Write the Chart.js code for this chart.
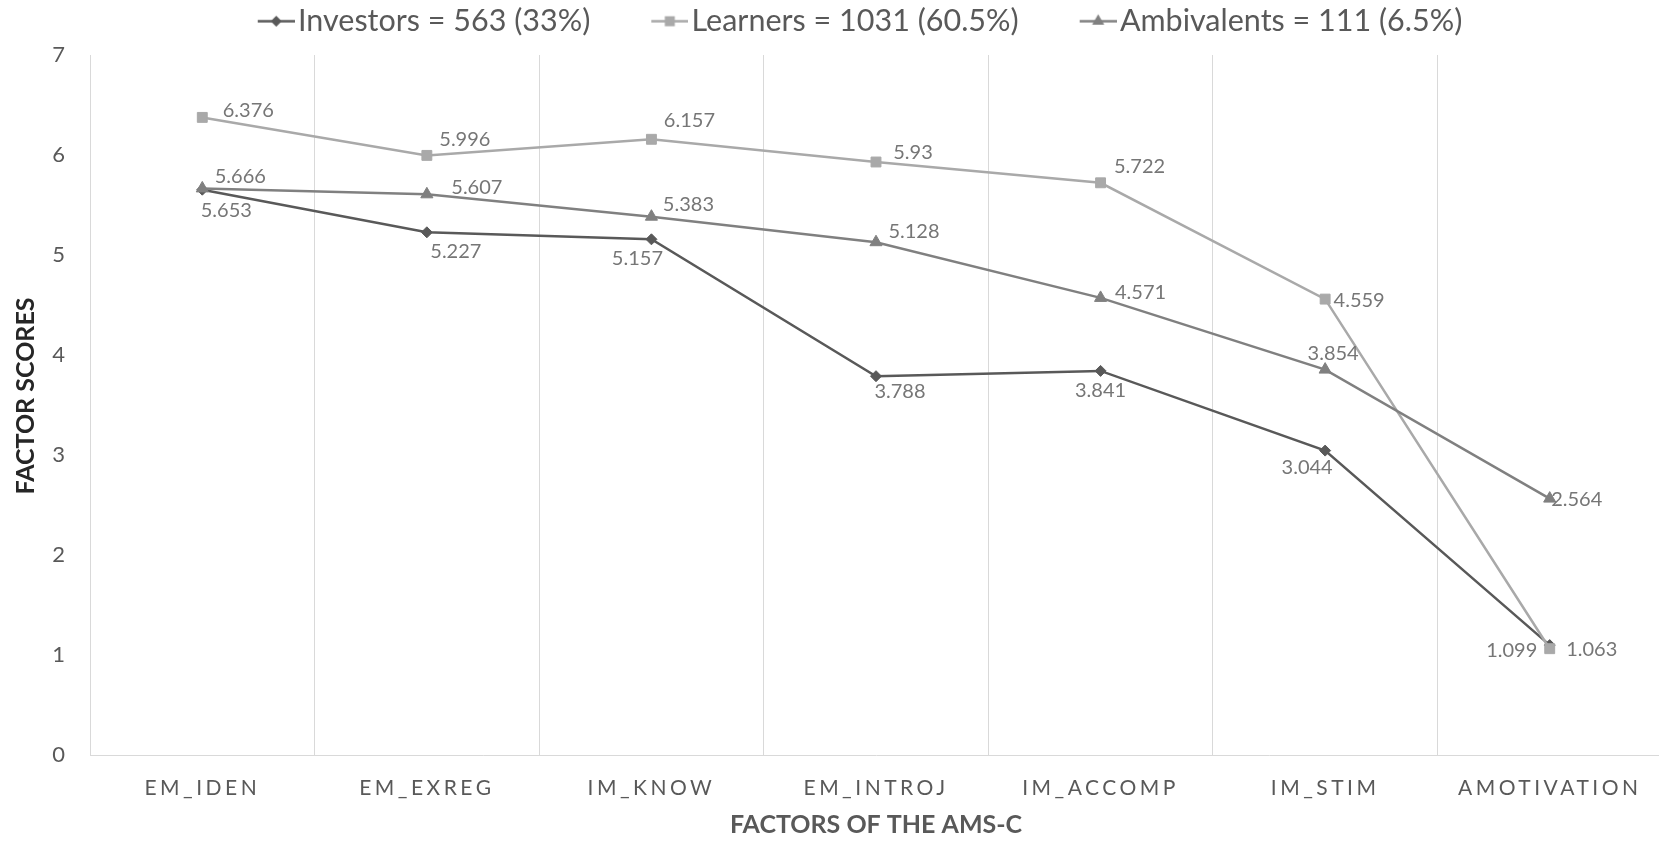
<!DOCTYPE html>
<html>
<head>
<meta charset="utf-8">
<script src="https://cdn.jsdelivr.net/npm/chart.js@4/dist/chart.umd.min.js"></script>
<style>
html, body { margin: 0; padding: 0; background: #ffffff; overflow: hidden; }
#wrap { width: 1670px; height: 841px; position: relative; }
</style>
</head>
<body>
<div id="wrap"><canvas id="c" width="1670" height="841"></canvas></div>
<script>
// ---- data ----
const categories = ['EM_IDEN', 'EM_EXREG', 'IM_KNOW', 'EM_INTROJ', 'IM_ACCOMP', 'IM_STIM', 'AMOTIVATION'];
const seriesNames = ['Investors = 563 (33%)', 'Learners = 1031 (60.5%)', 'Ambivalents = 111 (6.5%)'];
const investors = [5.653, 5.227, 5.157, 3.788, 3.841, 3.044, 1.099];
const learners = [6.376, 5.996, 6.157, 5.93, 5.722, 4.559, 1.063];
const ambivalents = [5.666, 5.607, 5.383, 5.128, 4.571, 3.854, 2.564];
const yTicks = [0, 1, 2, 3, 4, 5, 6, 7];
const xTitle = 'FACTORS OF THE AMS-C';
const yTitle = 'FACTOR SCORES';

// ---- styling (label placement relative to each point, in px) ----
const investorLabelOffsets = [[24, 21], [29, 19], [-14, 19], [24, 15], [0, 20], [-18, 17], [-38, 5]];
const learnerLabelOffsets = [[46, -7], [38, -16], [38, -19], [37, -9], [39, -16], [34, 1], [42, 1]];
const ambivalentLabelOffsets = [[38, -12], [50, -7], [37, -12], [38, -11], [40, -5], [8, -16], [27, 1]];

const colInvestors = '#595959';
const colLearners = '#a9a9a9';
const colAmbivalents = '#808080';
const FONT = 'Lato, "Open Sans", sans-serif';
const LEGEND_SIZE = 30.5;

function legendIcon(color, shape) {
  const W = 104, H = 31;
  const c = document.createElement('canvas');
  c.width = W; c.height = H;
  const g = c.getContext('2d');
  const cy = H / 2;
  g.strokeStyle = color;
  g.lineWidth = 2.5;
  g.beginPath(); g.moveTo(W - 37, cy); g.lineTo(W, cy); g.stroke();
  const cx = W - 18.5;
  g.fillStyle = color;
  g.beginPath();
  if (shape === 'diamond') {
    const r = 5.5;
    g.moveTo(cx, cy - r); g.lineTo(cx + r, cy); g.lineTo(cx, cy + r); g.lineTo(cx - r, cy);
  } else if (shape === 'square') {
    g.rect(cx - 5, cy - 5, 10, 10);
  } else {
    const r = 7;
    g.moveTo(cx, cy - r);
    g.lineTo(cx + r * Math.sin(2 * Math.PI / 3), cy - r * Math.cos(2 * Math.PI / 3));
    g.lineTo(cx + r * Math.sin(4 * Math.PI / 3), cy - r * Math.cos(4 * Math.PI / 3));
  }
  g.closePath();
  g.fill();
  return c;
}

const icons = [legendIcon(colInvestors, 'diamond'), legendIcon(colLearners, 'square'), legendIcon(colAmbivalents, 'triangle')];
const labelOffsets = [investorLabelOffsets, learnerLabelOffsets, ambivalentLabelOffsets];

const pointLabelPlugin = {
  id: 'pointLabels',
  afterDatasetsDraw(chart) {
    const ctx = chart.ctx;
    ctx.save();
    ctx.font = '20px ' + FONT;
    ctx.fillStyle = '#767676';
    ctx.textAlign = 'center';
    ctx.textBaseline = 'middle';
    chart.data.datasets.forEach((ds, di) => {
      const meta = chart.getDatasetMeta(di);
      meta.data.forEach((pt, i) => {
        const off = labelOffsets[di][i];
        ctx.fillText(String(ds.data[i]), pt.x + off[0], pt.y + off[1]);
      });
    });
    ctx.restore();
  }
};

const axisTweakPlugin = {
  id: 'axisTweak',
  beforeDraw(chart) {
    const s = chart.scales.x;
    if (s && !s._spacedPatch) {
      const orig = s.drawLabels;
      s.drawLabels = function (area) {
        const ctx = this.ctx;
        ctx.save();
        ctx.letterSpacing = '3.5px';
        orig.call(this, area);
        ctx.restore();
      };
      s._spacedPatch = true;
    }
    const y = chart.scales.y;
    if (y && !y._titlePatch) {
      const origT = y.drawTitle;
      y.drawTitle = function (area) {
        const ctx = this.ctx;
        ctx.save();
        ctx.translate(0, -9);
        origT.call(this, area);
        ctx.restore();
      };
      y._titlePatch = true;
    }
  }
};

function build() {
  new Chart(document.getElementById('c'), {
    type: 'line',
    data: {
      labels: categories,
      datasets: [
        { label: seriesNames[0], data: investors, borderColor: colInvestors, backgroundColor: colInvestors,
          pointStyle: 'rectRot', pointRadius: 5.5, pointBorderWidth: 1, borderWidth: 2.5, tension: 0, order: 3 },
        { label: seriesNames[1], data: learners, borderColor: colLearners, backgroundColor: colLearners,
          pointStyle: 'rect', pointRadius: 7, pointBorderWidth: 1, borderWidth: 2.5, tension: 0, order: 2 },
        { label: seriesNames[2], data: ambivalents, borderColor: colAmbivalents, backgroundColor: colAmbivalents,
          pointStyle: 'triangle', pointRadius: 7, pointBorderWidth: 1, borderWidth: 2.5, tension: 0, order: 1 }
      ]
    },
    options: {
      responsive: false,
      animation: false,
      devicePixelRatio: 1,
      layout: { padding: { top: 0, right: 5, bottom: 0, left: 0 } },
      plugins: {
        tooltip: { enabled: false },
        legend: {
          display: true,
          position: 'top',
          labels: {
            usePointStyle: true,
            pointStyleWidth: 80,
            padding: 6,
            color: '#595959',
            font: { family: FONT, size: LEGEND_SIZE },
            generateLabels: (chart) => chart.data.datasets.map((ds, i) => ({
              text: ds.label,
              pointStyle: icons[i],
              fillStyle: ds.borderColor,
              strokeStyle: ds.borderColor,
              lineWidth: 0,
              hidden: false,
              datasetIndex: i,
              fontColor: '#595959'
            }))
          }
        },
        subtitle: {
          display: true,
          text: '',
          weight: 500,
          font: { size: 1, lineHeight: 1 },
          padding: { top: 7.5, bottom: 0 }
        }
      },
      scales: {
        x: {
          type: 'category',
          offset: true,
          grid: { display: true, offset: true, color: '#d9d9d9', lineWidth: 1, drawTicks: false },
          border: { display: true, color: '#d9d9d9', width: 1 },
          ticks: { color: '#595959', font: { family: FONT, size: 21 }, padding: 21, maxRotation: 0, autoSkip: false },
          title: { display: true, text: xTitle, color: '#595959', font: { family: FONT, size: 25, weight: 'bold' }, padding: { top: 0, bottom: 1 } },
          afterFit(s) { s.height = 86; }
        },
        y: {
          min: 0,
          max: 7,
          grid: { display: false, drawTicks: false },
          border: { display: true, color: '#d9d9d9', width: 1 },
          ticks: {
            stepSize: 1,
            color: '#595959',
            font: { family: FONT, size: 22 },
            padding: 25,
            callback: (v) => (yTicks.includes(v) ? String(v) : '')
          },
          title: { display: true, text: yTitle, color: '#262626', font: { family: FONT, size: 25, weight: 'bold' }, padding: { top: 11, bottom: 0 } },
          afterFit(s) { s.width = 90; }
        }
      }
    },
    plugins: [pointLabelPlugin, axisTweakPlugin]
  });
}

if (document.fonts && document.fonts.load) {
  Promise.all([
    document.fonts.load('20px Lato'),
    document.fonts.load('bold 25px Lato')
  ]).then(build, build);
} else {
  build();
}
</script>
</body>
</html>
